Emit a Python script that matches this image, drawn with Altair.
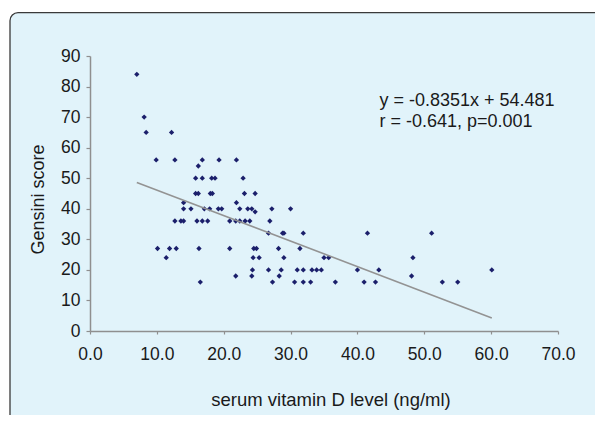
import altair as alt
import pandas as pd

# ---- data ----
vitamin_d = [7.0, 8.1, 8.4, 9.9, 10.1, 11.4, 11.9, 12.2, 12.7, 12.7, 12.9, 13.6, 14.0, 14.0, 14.0,
             15.1, 15.8, 15.8, 16.2, 16.2, 16.0, 16.3, 16.5, 16.8, 16.8, 16.8, 17.1, 17.6, 17.9,
             18.0, 18.3, 18.2, 18.7, 19.3, 19.2, 19.7, 20.9, 20.9, 21.8, 21.9, 21.9, 22.4, 21.8,
             22.4, 22.9, 23.1, 23.2, 23.6, 23.9, 24.2, 24.2, 24.3, 24.4, 24.5, 24.7, 24.7, 24.9,
             25.3, 26.7, 26.7, 26.9, 27.2, 27.3, 28.2, 28.3, 28.6, 28.8, 29.0, 29.0, 30.0, 30.6,
             31.0, 31.4, 31.9, 31.9, 31.9, 33.0, 33.2, 33.9, 34.6, 35.0, 35.7, 36.7, 40.0, 41.0,
             41.5, 42.7, 43.2, 48.1, 48.3, 51.1, 52.7, 55.0, 60.1]
gensini = [84, 70, 65, 56, 27, 24, 27, 65, 56, 36, 27, 36, 36, 42, 40,
           40, 50, 45, 45, 54, 36, 27, 16, 56, 50, 36, 40, 36, 40,
           45, 45, 50, 50, 56, 40, 40, 36, 27, 18, 56, 42, 40, 36,
           36, 50, 45, 36, 40, 36, 40, 18, 20, 24, 27, 45, 39, 27,
           24, 32, 20, 36, 40, 16, 27, 18, 20, 32, 32, 24, 40, 16,
           20, 27, 32, 20, 16, 16, 20, 20, 20, 24, 24, 16, 20, 16,
           32, 16, 20, 18, 24, 32, 16, 16, 20]

# regression line stated on the chart
slope = -0.8351
intercept = 54.481
fit_x = [7.0, 60.1]

annot_text = ["y = -0.8351x + 54.481", "r = -0.641, p=0.001"]
annot_x = [43.3, 43.3]
annot_y = [73.6, 66.85]

x_ticks = [0, 10, 20, 30, 40, 50, 60, 70]
y_ticks = [0, 10, 20, 30, 40, 50, 60, 70, 80, 90]

FONT = "Liberation Sans"
BG = "#E1F3FA"
AXC = "#8f8f8f"
TXT = "#1a1a1a"

pts = pd.DataFrame({"vitd": vitamin_d, "gensini": gensini})
fit = pd.DataFrame({"vitd": fit_x})
ann = pd.DataFrame({"x": annot_x, "y": annot_y, "t": annot_text})
frame = pd.DataFrame({"k": [0]})

xscale = alt.Scale(domain=[0, 70], nice=False, zero=False)
yscale = alt.Scale(domain=[0, 90], nice=False, zero=False)

common_axis = dict(
    grid=False, zindex=2, labelFont=FONT, labelFontSize=17.5, labelColor=TXT,
    titleFont=FONT, titleFontWeight="normal", titleColor=TXT,
    domainColor=AXC, domainWidth=1.5, tickColor=AXC, tickWidth=1.2,
    labelOverlap=False, labelFlush=False,
)
x_axis = alt.Axis(values=x_ticks, format=".1f", title="serum vitamin D level (ng/ml)",
                  tickSize=3, labelPadding=11, titleFontSize=18.5,
                  titleX=240.5, titleY=74, titleAlign="center",
                  titleBaseline="alphabetic", **common_axis)
y_axis = alt.Axis(values=y_ticks, format="d", title="Gensini score",
                  tickSize=4, labelPadding=6, titleFontSize=18,
                  titleAngle=270, titleX=-46.7, titleY=143,
                  titleAlign="center", titleBaseline="alphabetic",
                  **common_axis)

frame_layer = alt.Chart(frame).mark_rect(
    fill=BG, stroke="#3a3a3a", strokeWidth=1.3, cornerRadius=8
).encode(
    x=alt.value(-80), x2=alt.value(700), y=alt.value(-43.3), y2=alt.value(600)
)

points = alt.Chart(pts).mark_point(
    shape="diamond", filled=True, size=28, color="#1B1F6B", opacity=1
).encode(
    x=alt.X("vitd:Q", scale=xscale, axis=x_axis),
    y=alt.Y("gensini:Q", scale=yscale, axis=y_axis),
)

line = alt.Chart(fit).transform_calculate(
    fy=f"{slope} * datum.vitd + {intercept}"
).mark_line(color="#939393", strokeWidth=1.6).encode(
    x=alt.X("vitd:Q", scale=xscale, axis=x_axis),
    y=alt.Y("fy:Q", scale=yscale, axis=y_axis),
)

text = alt.Chart(ann).mark_text(
    align="left", baseline="alphabetic", font=FONT, fontSize=18, color=TXT
).encode(
    x=alt.X("x:Q", scale=xscale, axis=x_axis),
    y=alt.Y("y:Q", scale=yscale, axis=y_axis),
    text="t:N",
)

chart = alt.layer(frame_layer, points, line, text).properties(
    width=468,
    height=275,
    autosize=alt.AutoSizeParams(type="none"),
    padding={"left": 82, "top": 48, "right": 37, "bottom": 84},
    background="white",
).configure_view(
    stroke=None
)

chart.save("out.html", embed_options={"renderer": "svg", "actions": False})
